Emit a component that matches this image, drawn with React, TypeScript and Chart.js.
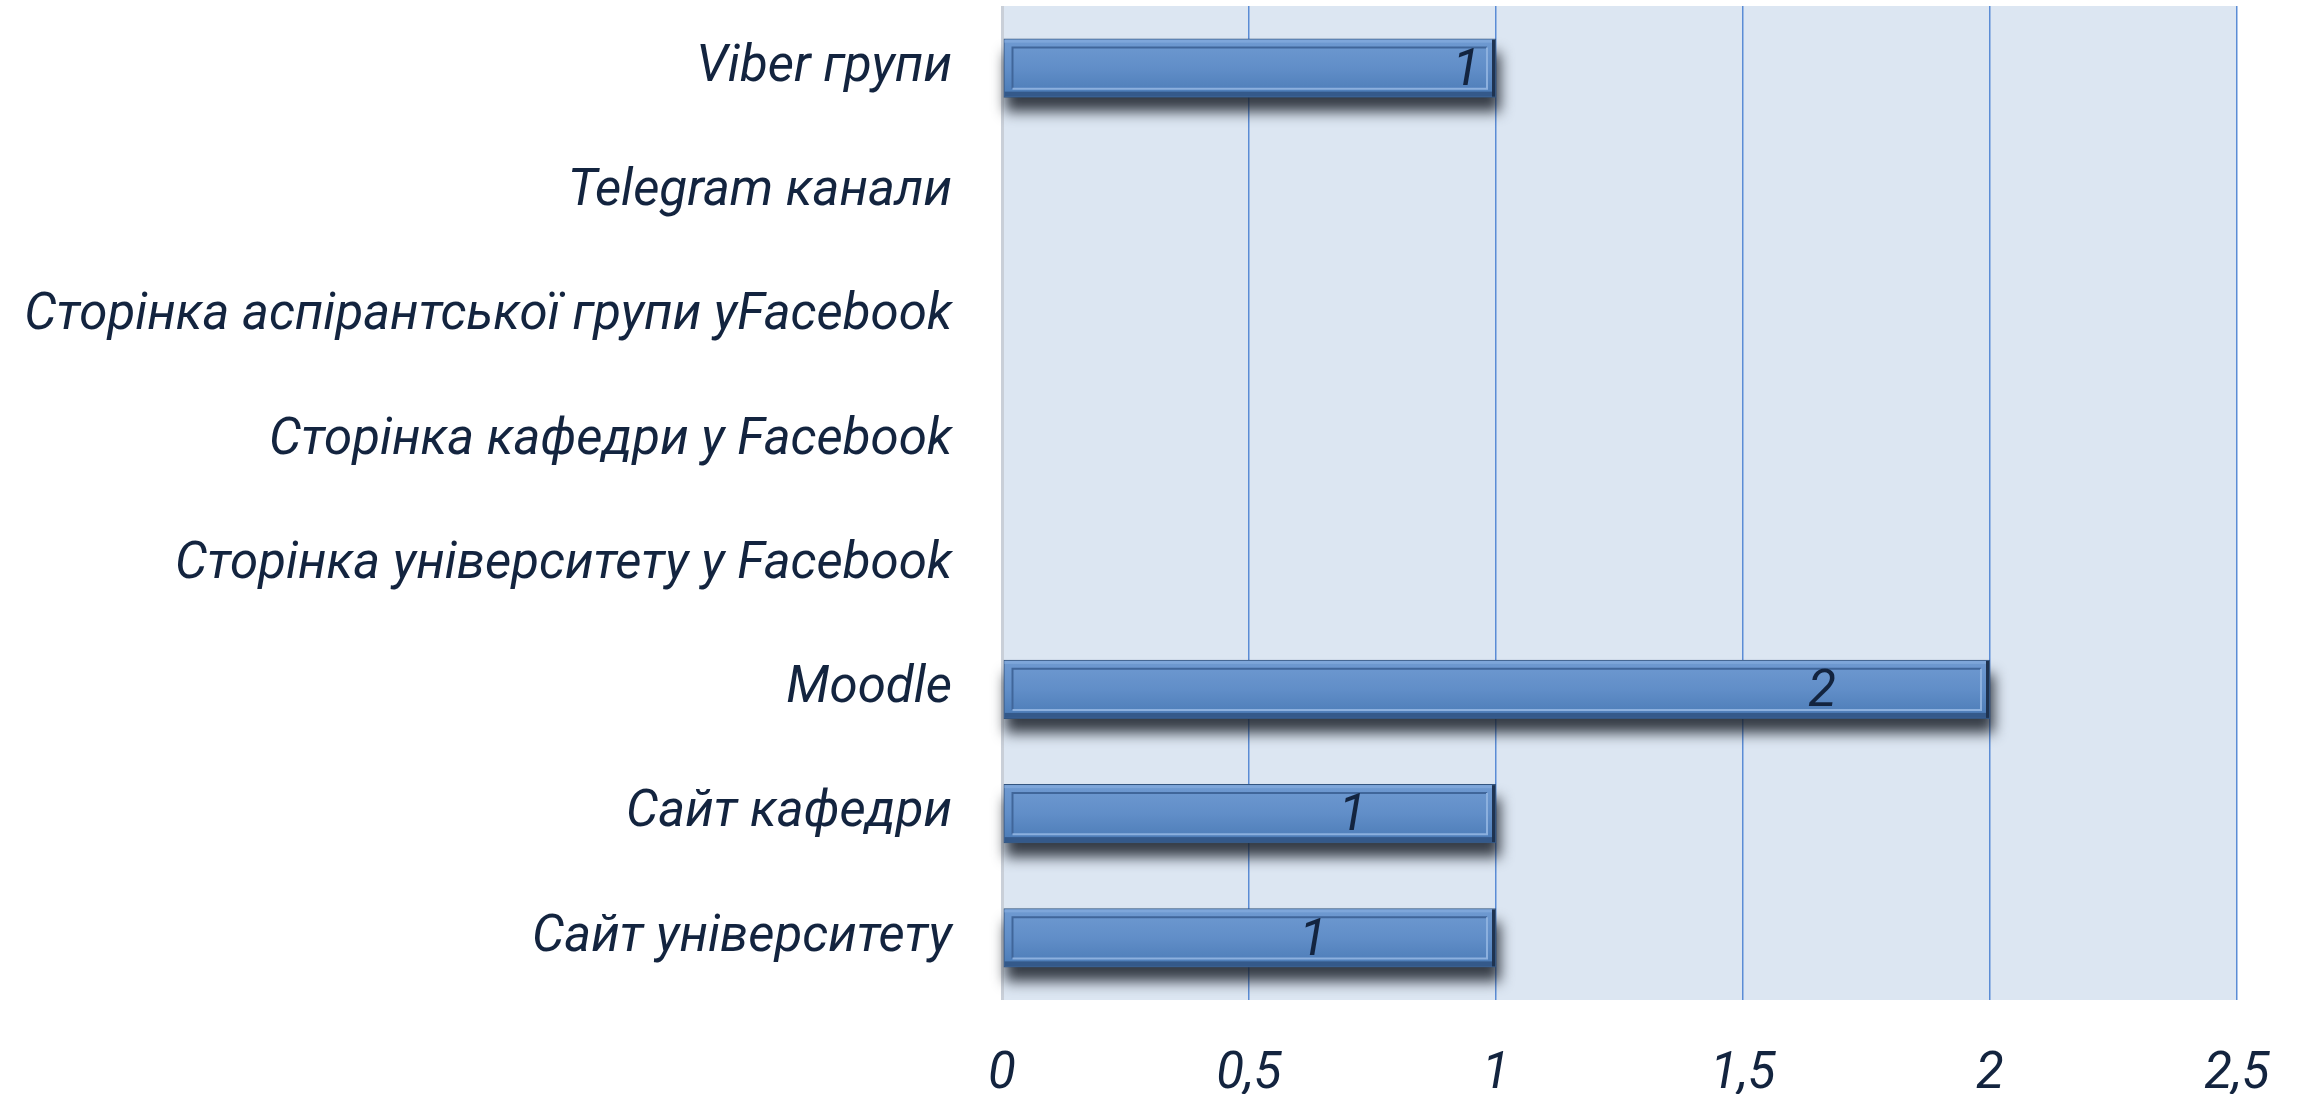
import React, { useEffect, useRef } from "react";
import { Chart, registerables } from "chart.js";

Chart.register(...registerables);

const categories = [
  "Viber групи",
  "Telegram канали",
  "Сторінка аспірантської групи уFacebook",
  "Сторінка кафедри у Facebook",
  "Сторінка університету у Facebook",
  "Moodle",
  "Сайт кафедри",
  "Сайт університету",
];
const values = [1, 0, 0, 0, 0, 2, 1, 1];
// where each value label sits along the value axis (as in the original)
const labelPositions = [0.94, null, null, null, null, 1.66, 0.71, 0.63];
const xMin = 0;
const xMax = 2.5;
const xStep = 0.5;

const FONT = "Roboto";
const FONT_SIZE = 51;
const TEXT = "#13243f";

export default function App() {
  const ref = useRef<HTMLCanvasElement | null>(null);

  useEffect(() => {
    const canvas = ref.current!;
    const bgPlugin = {
      id: "plotBg",
      beforeDraw(chart: any) {
        const { ctx, chartArea: a } = chart;
        ctx.save();
        ctx.fillStyle = "#dce6f2";
        ctx.fillRect(a.left, a.top, a.right - a.left, a.bottom - a.top);
        ctx.restore();
      },
    };
    const barPlugin = {
      id: "barLook",
      beforeDatasetsDraw(chart: any) {
        const ctx = chart.ctx;
        const meta = chart.getDatasetMeta(0);
        meta.data.forEach((el: any, i: number) => {
          if (!values[i]) return;
          const p = el.getProps(["x", "y", "base", "height"], true);
          const left = Math.min(p.base, p.x);
          const right = Math.max(p.base, p.x);
          const top = p.y - p.height / 2;
          const h = p.height;
          ctx.save();
          ctx.filter = "blur(7px)";
          ctx.fillStyle = "rgba(25,30,40,0.85)";
          ctx.fillRect(left + 2, top + 14, right - left + 2, h);
          ctx.restore();
        });
      },
      afterDatasetsDraw(chart: any) {
        const ctx = chart.ctx;
        const meta = chart.getDatasetMeta(0);
        const xs = chart.scales.x;
        meta.data.forEach((el: any, i: number) => {
          if (!values[i]) return;
          const p = el.getProps(["x", "y", "base", "height"], true);
          const left = Math.min(p.base, p.x) + 1;
          const right = Math.max(p.base, p.x) - 1;
          const top = p.y - p.height / 2 + 1;
          const bottom = p.y + p.height / 2 - 1;
          ctx.save();
          const g = ctx.createLinearGradient(0, top, 0, bottom);
          g.addColorStop(0, "#6f9ad1");
          g.addColorStop(0.5, "#618ec8");
          g.addColorStop(1, "#4b7bb6");
          ctx.fillStyle = g;
          ctx.fillRect(left, top, right - left, bottom - top);
          // outer top highlight
          ctx.fillStyle = "#7ea6da";
          ctx.fillRect(left, top, right - left, 3);
          // bottom dark band
          ctx.fillStyle = "#34598a";
          ctx.fillRect(left, bottom - 5, right - left, 5);
          // right dark edge
          ctx.fillStyle = "#1f3350";
          ctx.fillRect(right - 3, top, 3, bottom - top);
          // inner bevel
          const inset = 8;
          ctx.lineWidth = 2;
          ctx.strokeStyle = "#40669a";
          ctx.beginPath();
          ctx.moveTo(left + inset, bottom - inset);
          ctx.lineTo(left + inset, top + inset);
          ctx.lineTo(right - inset, top + inset);
          ctx.stroke();
          ctx.strokeStyle = "#8cb0de";
          ctx.beginPath();
          ctx.moveTo(left + inset, bottom - inset);
          ctx.lineTo(right - inset, bottom - inset);
          ctx.lineTo(right - inset, top + inset);
          ctx.stroke();
          ctx.restore();

          const lp = labelPositions[i];
          if (lp != null) {
            ctx.save();
            ctx.font = `italic ${FONT_SIZE}px ${FONT}`;
            ctx.fillStyle = TEXT;
            ctx.textAlign = "center";
            ctx.textBaseline = "middle";
            ctx.fillText(String(values[i]), xs.getPixelForValue(lp), p.y + 4);
            ctx.restore();
          }
        });
      },
    };

    const chart = new Chart(canvas, {
      type: "bar",
      data: {
        labels: categories,
        datasets: [
          {
            data: values,
            backgroundColor: "#5a87c0",
            borderColor: "#34557f",
            borderWidth: (c: any) => (values[c.dataIndex] > 0 ? 2 : 0),
            borderSkipped: false,
            barPercentage: 0.475,
            categoryPercentage: 1,
          },
        ],
      },
      options: {
        indexAxis: "y",
        responsive: false,
        animation: false,
        layout: { padding: { left: 0, right: 66, top: 6, bottom: 0 } },
        plugins: { legend: { display: false }, tooltip: { enabled: false } },
        scales: {
          x: {
            min: xMin,
            max: xMax,
            ticks: {
              stepSize: xStep,
              padding: 45,
              color: TEXT,
              font: { family: FONT, size: FONT_SIZE, style: "italic" },
              callback: (v: any) => String(v).replace(".", ","),
            },
            grid: {
              drawTicks: false,
              color: (c: any) => (c.tick && c.tick.value === 0 ? "#c9cfd8" : "#5b8cd5"),
              lineWidth: (c: any) => (c.tick && c.tick.value === 0 ? 3 : 1.5),
            },
            border: { display: false },
            afterFit: (s: any) => {
              s.height = 94;
              s.paddingLeft = 0;
              s.paddingRight = 0;
            },
          },
          y: {
            ticks: {
              padding: 50,
              color: TEXT,
              font: { family: FONT, size: FONT_SIZE, style: "italic" },
            },
            grid: { display: false, drawTicks: false },
            border: { display: false },
            afterFit: (s: any) => {
              s.width = 1002;
              s.paddingTop = 0;
              s.paddingBottom = 0;
            },
          },
        },
      },
      plugins: [bgPlugin, barPlugin],
    } as any);
    return () => chart.destroy();
  }, []);

  return (
    <div style={{ position: "absolute", left: 0, top: 0, width: 2303, height: 1094, background: "#fff" }}>
      <canvas ref={ref} width={2303} height={1094} style={{ display: "block" }} />
    </div>
  );
}
